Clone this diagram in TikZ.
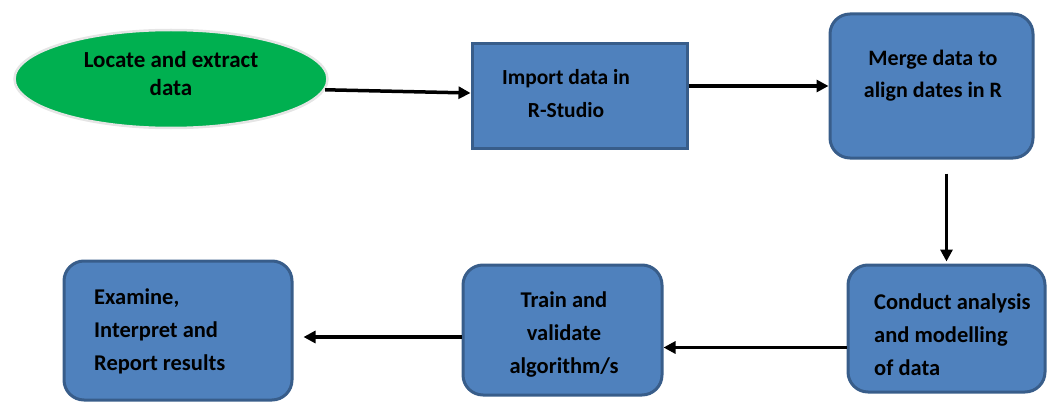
\documentclass[tikz,border=0pt]{standalone}
\usepackage{fontspec}
\setmainfont{Carlito}
\usetikzlibrary{arrows.meta,shapes.geometric}
\definecolor{boxfill}{HTML}{4F81BD}
\definecolor{boxline}{HTML}{385D8A}
\definecolor{ovalfill}{HTML}{00B050}
\begin{document}
\begin{tikzpicture}[x=1pt,y=-1pt,
  box/.style={draw=boxline,fill=boxfill,line width=3pt,inner sep=0pt},
  rbox/.style={box,rounded corners=20pt},
  lbl/.style={font=\bfseries\fontsize{22.5}{33}\selectfont,align=center,inner sep=0pt},
  lbll/.style={lbl,align=left},
  conn/.style={line width=3.5pt,-{Triangle[length=12pt,width=12pt]}}]
\useasboundingbox (0,0) rectangle (1048,409);
% shapes
\node[ellipse,draw=gray!20,line width=2.5pt,fill=ovalfill,minimum width=313pt,minimum height=98pt] (locate) at (171,79) {};
\node[box,minimum width=215pt,minimum height=104pt] (import) at (579.5,96) {};
\node[rbox,minimum width=203pt,minimum height=144pt] (merge) at (931.5,86) {};
\node[rbox,minimum width=197pt,minimum height=127pt] (conduct) at (946.5,328.5) {};
\node[rbox,minimum width=199pt,minimum height=130pt] (train) at (562.5,330) {};
\node[rbox,minimum width=228pt,minimum height=139pt] (examine) at (178,330.5) {};
% texts
\node[lbl,font=\bfseries\fontsize{23}{28}\selectfont] (tlocate) at (171,74) {Locate and extract\\data};
\node[lbl,font=\bfseries\fontsize{21.5}{33}\selectfont] (timport) at (566,93.5) {Import data in\\R-Studio};
\node[lbl,font=\bfseries\fontsize{22}{32}\selectfont] (tmerge) at (933,76) {Merge data to\\align dates in R};
\node[lbll,anchor=west] (tconduct) at (874,335) {Conduct analysis\\and modelling\\of data};
\node[lbl] (ttrain) at (564,335) {Train and\\validate\\algorithm/s};
\node[lbll,anchor=west] (texamine) at (94,331) {Examine,\\Interpret and\\Report results};
% connectors
\draw[conn] (locate.-4) -- ([yshift=3pt]import.west);
\draw[conn] (import.east |- merge.west) -- (merge.west);
\draw[conn,shorten >=2pt] ([yshift=-14pt]conduct.north |- merge.south) -- (conduct.north);
\coordinate (c1) at ([yshift=-19pt]conduct.west);
\draw[conn] (c1) -- (c1 -| train.east);
\coordinate (c2) at ([yshift=-7pt]train.west);
\draw[conn,shorten >=10pt] (c2) -- (c2 -| examine.east);
\end{tikzpicture}
\end{document}
